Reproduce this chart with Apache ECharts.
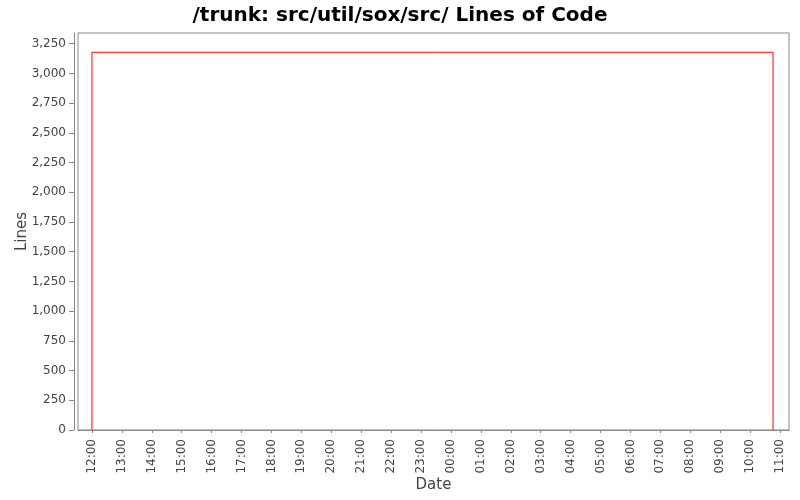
<!DOCTYPE html>
<html>
<head>
<meta charset="utf-8">
<script src="https://cdn.jsdelivr.net/npm/echarts@6/dist/echarts.min.js"></script>
<style>html,body{margin:0;padding:0;background:#fff;}#c{width:800px;height:500px;}</style>
</head>
<body>
<div id="c"></div>
<script>
const titleText = '/trunk: src/util/sox/src/ Lines of Code';
const dates = ['2008-01-01 12:00', '2008-01-01 12:00', '2008-01-02 10:46', '2008-01-02 10:46'];
const linesOfCode = [0, 3178, 3178, 0];
const tickLabels = ['2008-01-01 12:00','2008-01-01 13:00','2008-01-01 14:00','2008-01-01 15:00','2008-01-01 16:00','2008-01-01 17:00','2008-01-01 18:00','2008-01-01 19:00','2008-01-01 20:00','2008-01-01 21:00','2008-01-01 22:00','2008-01-01 23:00','2008-01-02 00:00','2008-01-02 01:00','2008-01-02 02:00','2008-01-02 03:00','2008-01-02 04:00','2008-01-02 05:00','2008-01-02 06:00','2008-01-02 07:00','2008-01-02 08:00','2008-01-02 09:00','2008-01-02 10:00','2008-01-02 11:00'];
const xRange = ['2008-01-01 11:32', '2008-01-02 11:18'];
const yMax = 3340;
const yStep = 250;

function toMs(s) {
  const m = s.match(/(\d+)-(\d+)-(\d+) (\d+):(\d+)/);
  return Date.UTC(+m[1], +m[2] - 1, +m[3], +m[4], +m[5]);
}
function fmt(v) {
  const d = new Date(v);
  return String(d.getUTCHours()).padStart(2, '0') + ':' + String(d.getUTCMinutes()).padStart(2, '0');
}
const tickMs = tickLabels.map(toMs);
const seriesData = dates.map((d, i) => [toMs(d), linesOfCode[i]]);

const chart = echarts.init(document.getElementById('c'), null, {renderer: 'canvas'});
const font = 'DejaVu Sans';
chart.setOption({
  backgroundColor: '#ffffff',
  animation: false,
  title: {
    text: titleText, left: 'center', top: 1,
    textStyle: {fontFamily: font, fontSize: 20, fontWeight: 'bold', color: '#000'}
  },
  grid: {left: 78, right: 11, top: 33, bottom: 70, show: true, borderColor: '#888', borderWidth: 1, backgroundColor: '#fff', containLabel: false, outerBoundsMode: 'none'},
  xAxis: {
    type: 'value', min: toMs(xRange[0]), max: toMs(xRange[1]), offset: 4,
    name: 'Date', nameLocation: 'middle', nameGap: 44, nameMoveOverlap: false,
    nameTextStyle: {fontFamily: font, fontSize: 15, color: '#444'},
    axisLine: {show: true, lineStyle: {color: '#888'}},
    axisTick: {show: true, length: 3, lineStyle: {color: '#888'}, customValues: tickMs},
    axisLabel: {customValues: tickMs, rotate: 90, margin: 5, formatter: fmt, fontFamily: font, fontSize: 12, color: '#444'},
    splitLine: {show: false}
  },
  yAxis: {
    type: 'value', min: 0, max: yMax, interval: yStep, offset: 4,
    name: 'Lines', nameLocation: 'middle', nameGap: 44, nameRotate: 90, nameMoveOverlap: false,
    nameTextStyle: {fontFamily: font, fontSize: 15, color: '#444'},
    axisLine: {show: true, lineStyle: {color: '#888'}},
    axisTick: {show: true, length: 5, lineStyle: {color: '#888'}},
    axisLabel: {showMaxLabel: false, margin: 8, fontFamily: font, fontSize: 12, color: '#444', formatter: v => v.toLocaleString('en-US')},
    splitLine: {show: false}
  },
  series: [{
    type: 'line', data: seriesData, showSymbol: false, symbol: 'none',
    lineStyle: {color: '#ff0000', width: 1}, itemStyle: {color: '#ff0000'}
  }]
});
</script>
</body>
</html>
